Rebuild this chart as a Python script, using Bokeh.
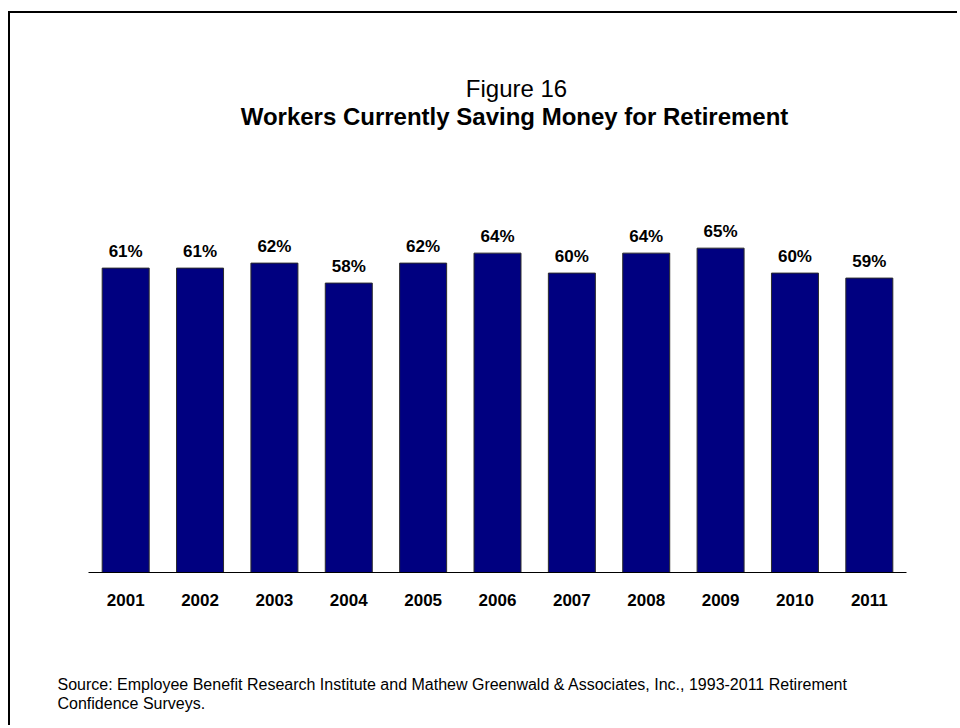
from bokeh.plotting import figure
from bokeh.models import ColumnDataSource, LabelSet, Label, FactorRange, Range1d
from bokeh.core.properties import value
from bokeh.embed import file_html
from bokeh.resources import INLINE

years = ["2001", "2002", "2003", "2004", "2005", "2006", "2007", "2008", "2009", "2010", "2011"]
saving_pct = [61, 61, 62, 58, 62, 64, 60, 64, 65, 60, 59]
pct_labels = [f"{v}%" for v in saving_pct]

fig_label = "Figure 16"
title_text = "Workers Currently Saving Money for Retirement"
source_line1 = "Source:  Employee Benefit Research Institute and Mathew Greenwald & Associates, Inc., 1993-2011 Retirement"
source_line2 = "Confidence Surveys."

FONT = "Liberation Sans"

# layout constants (page pixels)
CANVAS_X0, CANVAS_Y0 = 10, 13
CANVAS_W, CANVAS_H = 949, 714
FRAME_LEFT = 40
AXIS_Y = 572
CAT_LEFT, CAT_RIGHT = 88, 906
PX_PER_PCT = 4.99

n = len(years)
cat_w = (CAT_RIGHT - CAT_LEFT) / n
pad_px = CAT_LEFT - FRAME_LEFT
frame_right = CAT_RIGHT + pad_px

y_end = (AXIS_Y - CANVAS_Y0) / PX_PER_PCT
y_start = -((CANVAS_Y0 + CANVAS_H) - AXIS_Y) / PX_PER_PCT

src = ColumnDataSource(dict(year=years, pct=saving_pct, label=pct_labels))

p = figure(
    x_range=FactorRange(*years, range_padding=pad_px / cat_w, range_padding_units="absolute"),
    y_range=Range1d(y_start, y_end),
    width=CANVAS_W, height=CANVAS_H,
    output_backend="svg", toolbar_location=None,
    min_border_left=FRAME_LEFT - CANVAS_X0,
    min_border_right=(CANVAS_X0 + CANVAS_W) - frame_right,
    min_border_top=0, min_border_bottom=0,
    y_axis_location=None,
)
p.styles = {"border-left": "2px solid black", "border-top": "2px solid black",
            "margin-top": "11px", "margin-left": "8px"}
p.outline_line_color = None
p.background_fill_color = "white"
p.border_fill_color = "white"
p.xgrid.grid_line_color = None
p.ygrid.grid_line_color = None

p.vbar(x="year", top="pct", width=0.632, source=src,
       fill_color="#000080", line_color="#2b2b2b", line_width=1)

labels = LabelSet(x="year", y="pct", text="label", source=src,
                  y_offset=11, text_align="center", text_baseline="alphabetic",
                  text_font=value(FONT), text_font_style="bold",
                  text_font_size="17px", text_color="black")
p.add_layout(labels)

ax = p.xaxis[0]
ax.fixed_location = 0
ax.bounds = (0, n)
ax.axis_line_color = "black"
ax.axis_line_width = 1
ax.major_tick_line_color = None
ax.minor_tick_line_color = None
ax.major_tick_out = 0
ax.major_tick_in = 0
ax.major_label_standoff = 21
ax.major_label_text_font = FONT
ax.major_label_text_font_style = "bold"
ax.major_label_text_font_size = "17px"
ax.major_label_text_color = "black"


def ydat(page_y):
    return (AXIS_Y - page_y) / PX_PER_PCT


def xdat(page_x):
    return (page_x - CAT_LEFT) / cat_w


p.add_layout(Label(x=xdat(516), y=ydat(88), text=fig_label, text_align="center",
                   text_baseline="alphabetic", text_font=FONT,
                   text_font_size="24px", text_color="black"))
p.add_layout(Label(x=xdat(514), y=ydat(116), text=title_text, text_align="center",
                   text_baseline="alphabetic", text_font=FONT, text_font_style="bold",
                   text_font_size="24px", text_color="black"))
p.add_layout(Label(x=xdat(57), y=ydat(684), text=source_line1, text_align="left",
                   text_baseline="alphabetic", text_font=FONT,
                   text_font_size="16px", text_color="black"))
p.add_layout(Label(x=xdat(57), y=ydat(703), text=source_line2, text_align="left",
                   text_baseline="alphabetic", text_font=FONT,
                   text_font_size="16px", text_color="black"))

open("out.html", "w").write(file_html(p, INLINE))
